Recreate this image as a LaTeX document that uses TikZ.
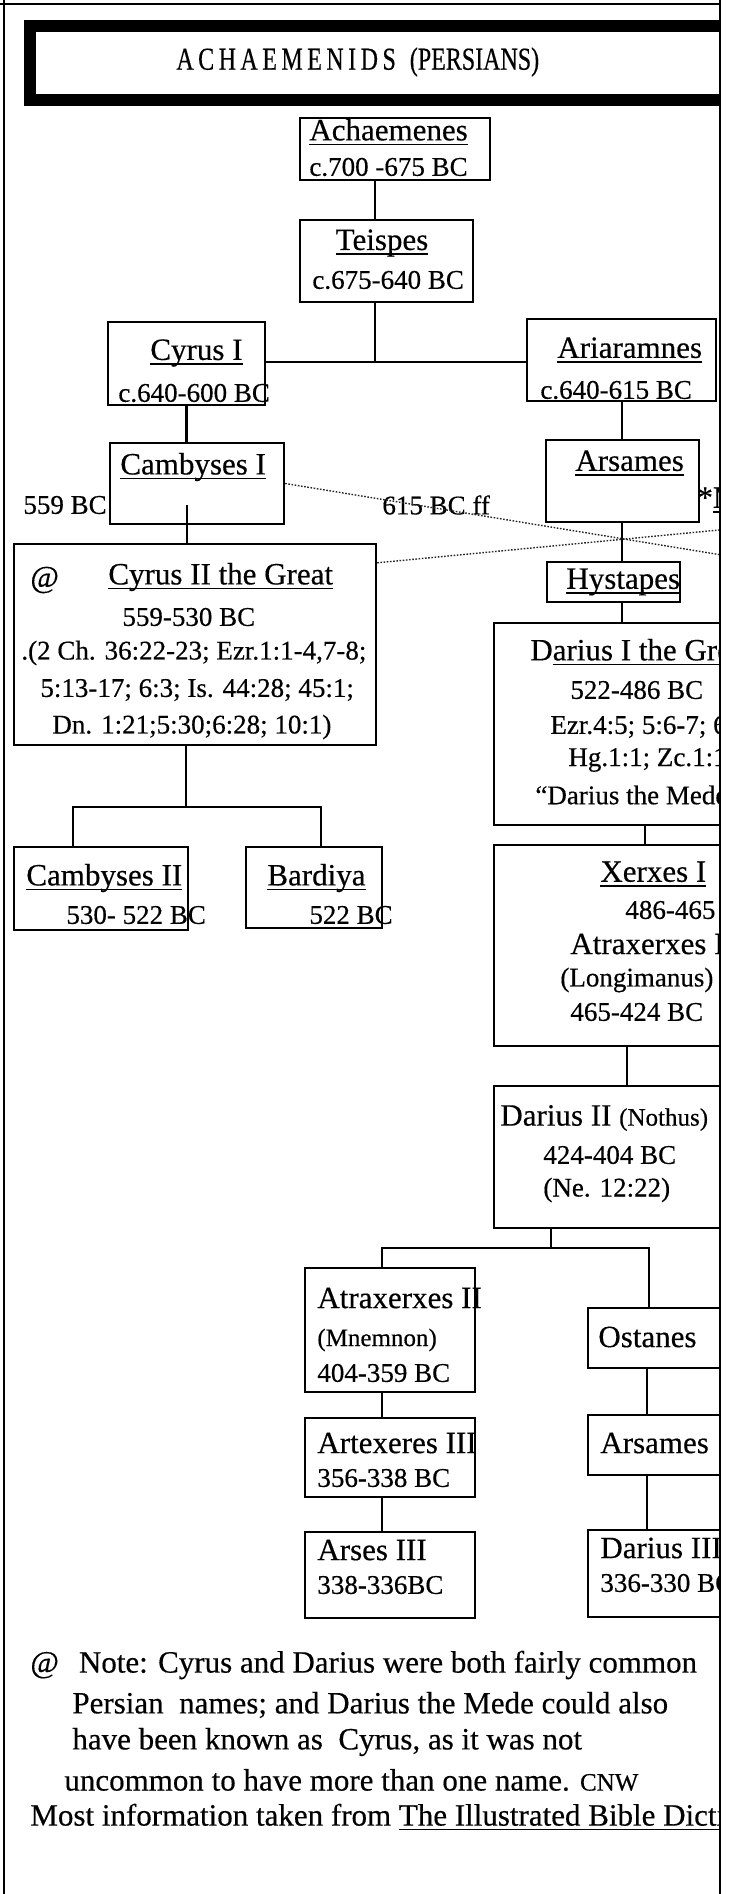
\documentclass[tikz,border=0pt]{standalone}
\usepackage{fontspec}
\setmainfont{Liberation Serif}[FakeBold=0.4]
\usetikzlibrary{fit}

\newsavebox{\ulnbox}
\newcommand{\uln}[1]{\sbox{\ulnbox}{#1}\rlap{\rule[-2.4pt]{\wd\ulnbox}{0.7pt}}\usebox{\ulnbox}}
\newcommand{\smallpart}{\fontsize{12.5}{14}\selectfont}

\tikzset{
  king/.style={draw, line width=1.2pt, inner sep=0pt},
  txt/.style={anchor=west, inner sep=0pt, font=\fontsize{13.5}{16}\selectfont},
  rname/.style={txt, font=\fontsize{15.5}{18}\selectfont},
  note/.style={txt, font=\fontsize{15.5}{18}\selectfont},
  link/.style={line width=1.1pt},
  dotline/.style={line width=0.7pt, dash pattern=on 0.8pt off 0.8pt, black!85}
}

\begin{document}
\begin{tikzpicture}[x=0.5pt, y=-0.5pt]
  \useasboundingbox (0,0) rectangle (728,1894);
  \begin{scope}
    \clip (0,0) rectangle (720,1894);
    \node[draw, line width=6pt, inner sep=0pt, fit={(30,26) (780,100)}] (titlebox) {};
    \node[anchor=west, inner sep=0pt, font=\fontsize{16}{18}\selectfont] (title) at (176,62)
      {\addfontfeature{FakeStretch=0.75}{\addfontfeature{LetterSpace=14}ACHAEMENIDS}\hspace{7pt}(PERSIANS)};

    % boxes
    \node[king, fit={(300,118) (490,180)}] (achaemenes) {};
    \node[king, fit={(300,220) (473,302)}] (teispes) {};
    \node[king, fit={(108,322) (265,405)}] (cyrusI) {};
    \node[king, fit={(527,319) (716,401)}] (ariaramnes) {};
    \node[king, fit={(110,443) (284,524)}] (cambysesI) {};
    \node[king, fit={(546,440) (699,522)}] (arsames) {};
    \node[king, fit={(547,562) (680,602)}] (hystapes) {};
    \node[king, fit={(14,544) (376,745)}] (cyrusII) {};
    \node[king, fit={(494,623) (780,825)}] (dariusI) {};
    \node[king, fit={(494,845) (780,1046)}] (xerxes) {};
    \node[king, fit={(494,1086) (780,1228)}] (dariusII) {};
    \node[king, fit={(14,847) (188,930)}] (cambysesII) {};
    \node[king, fit={(246,847) (382,928)}] (bardiya) {};
    \node[king, fit={(305,1268) (475,1392)}] (artaxII) {};
    \node[king, fit={(305,1418) (475,1497)}] (artaxIII) {};
    \node[king, fit={(305,1532) (475,1618)}] (arsesIII) {};
    \node[king, fit={(588,1308) (780,1368)}] (ostanes) {};
    \node[king, fit={(588,1415) (780,1475)}] (arsamesII) {};
    \node[king, fit={(588,1530) (780,1617)}] (dariusIII) {};

    % texts
    \node[rname] (n-ach) at (309,132) {\uln{Achaemenes}};
    \node[txt] (d-ach) at (309,167) {c.700 -675 BC};
    \node[rname, anchor=center] (n-tei) at (382,243) {\uln{Teispes}};
    \node[txt] (d-tei) at (312,280) {c.675-640 BC};
    \node[rname] (n-cy1) at (150,353) {\uln{Cyrus I}};
    \node[txt] (d-cy1) at (118,393) {c.640-600 BC};
    \node[rname] (n-ari) at (557,350) {\uln{Ariaramnes}};
    \node[txt] (d-ari) at (540,390) {c.640-615 BC};
    \node[rname] (n-cb1) at (120,467) {\uln{Cambyses I}};
    \node[txt] (y559) at (23,505) {559 BC};
    \node[txt] (y615) at (382,505) {615 BC ff};
    \node[rname] (n-ars) at (575,463) {\uln{Arsames}};
    \node[rname] (mede) at (697,500) {*\uln{M}};
    \node[rname] (n-hys) at (566,582) {\uln{Hystapes}};

    \node[rname] (at1) at (30,580) {@};
    \node[rname] (n-cy2) at (108,577) {\uln{Cyrus II the Great}};
    \node[txt] (d-cy2) at (122,617) {559-530 BC};
    \node[txt] (r1-cy2) at (21,653) {.(2 Ch. 36:22-23; Ezr.1:1-4,7-8;};
    \node[txt] (r2-cy2) at (40,690) {5:13-17; 6:3; Is. 44:28; 45:1;};
    \node[txt] (r3-cy2) at (52,727) {Dn. 1:21;5:30;6:28; 10:1)};

    \node[rname] (n-da1) at (530,652) {D\uln{arius I the Great}};
    \node[txt] (d-da1) at (570,690) {522-486 BC};
    \node[txt] (r1-da1) at (550,727) {Ezr.4:5; 5:6-7; 6};
    \node[txt] (r2-da1) at (568,760) {Hg.1:1; Zc.1:1};
    \node[txt] (r3-da1) at (535,795) {“Darius the Mede”};

    \node[rname] (n-xer) at (600,874) {\uln{Xerxes I}};
    \node[txt] (d-xer) at (625,910) {486-465};
    \node[rname] (n-at1) at (570,944) {Atraxerxes I};
    \node[txt] (s-at1) at (560,980) {(Longimanus)};
    \node[txt] (d-at1) at (570,1012) {465-424 BC};

    \node[rname] (n-da2) at (500,1118) {Darius II {\smallpart(Nothus)}};
    \node[txt] (d-da2) at (543,1155) {424-404 BC};
    \node[txt] (r-da2) at (543,1190) {(Ne. 12:22)};

    \node[rname] (n-cb2) at (26,878) {\uln{Cambyses II}};
    \node[txt] (d-cb2) at (66,915) {530- 522 BC};
    \node[rname] (n-bar) at (267,878) {\uln{Bardiya}};
    \node[txt] (d-bar) at (309,915) {522 BC};

    \node[rname] (n-at2) at (317,1298) {Atraxerxes II};
    \node[txt, font=\smallpart] (s-at2) at (317,1340) {(Mnemnon)};
    \node[txt] (d-at2) at (317,1373) {404-359 BC};
    \node[rname] (n-at3) at (317,1443) {Artexeres III};
    \node[txt] (d-at3) at (317,1478) {356-338 BC};
    \node[rname] (n-as3) at (317,1550) {Arses III};
    \node[txt] (d-as3) at (317,1585) {338-336BC};
    \node[rname] (n-ost) at (598,1337) {Ostanes};
    \node[rname] (n-ar2) at (600,1443) {Arsames};
    \node[rname] (n-da3) at (600,1548) {Darius III};
    \node[txt] (d-da3) at (600,1583) {336-330 BC};

    % lines of descent
    \coordinate (stem) at (375,362);
    \draw[link] (achaemenes.south -| stem) -- (teispes.north -| stem);
    \draw[link] (teispes.south -| stem) -- (stem);
    \draw[link] (cyrusI.east |- stem) -- (ariaramnes.west |- stem);
    \draw[link] (cyrusI.south) -- (cyrusI.south |- cambysesI.north);
    \coordinate (camb) at (187,505);
    \draw[link] (camb) -- (camb |- cyrusII.north);
    \coordinate (rstem) at (622,0);
    \draw[link] (ariaramnes.south -| rstem) -- (arsames.north -| rstem);
    \draw[link] (arsames.south -| rstem) -- (hystapes.north -| rstem);
    \draw[link] (hystapes.south -| rstem) -- (dariusI.north -| rstem);
    \coordinate (dstem) at (645,835);
    \draw[link] (dariusI.south -| dstem) -- (xerxes.north -| dstem);
    \coordinate (xstem) at (627,1066);
    \draw[link] (xerxes.south -| xstem) -- (dariusII.north -| xstem);
    \coordinate (f1) at (186,807);
    \coordinate (f1l) at (73,807);
    \coordinate (f1r) at (321,807);
    \draw[link] (cyrusII.south -| f1) -- (f1);
    \draw[link] (cambysesII.north -| f1l) -- (f1l) -- (f1r) -- (bardiya.north -| f1r);
    \coordinate (f2) at (551,1248);
    \coordinate (f2l) at (382,1248);
    \coordinate (f2r) at (649,1248);
    \draw[link] (dariusII.south -| f2) -- (f2);
    \draw[link] (artaxII.north -| f2l) -- (f2l) -- (f2r) -- (ostanes.north -| f2r);
    \draw[link] (artaxII.south -| f2l) -- (artaxIII.north -| f2l);
    \draw[link] (artaxIII.south -| f2l) -- (arsesIII.north -| f2l);
    \coordinate (ostem) at (647,0);
    \draw[link] (ostanes.south -| ostem) -- (arsamesII.north -| ostem);
    \draw[link] (arsamesII.south -| ostem) -- (dariusIII.north -| ostem);

    % dotted cross
    \coordinate (dotA) at (740,558);
    \coordinate (dotB) at (740,528);
    \draw[dotline] (cambysesI.east) -- (dotA);
    \draw[dotline] ([yshift=-10pt]cyrusII.north east) -- (dotB);

    % note
    \node[note] (note1) at (30,1665) {@\hspace{10pt}Note: Cyrus and Darius were both fairly common};
    \node[note] (note2) at (72,1705) {Persian\ \ names; and Darius the Mede could also};
    \node[note] (note3) at (72,1742) {have been known as\ \ Cyrus, as it was not};
    \node[note] (note4) at (64,1780) {uncommon to have more than one name. {\smallpart CNW}};
    \node[note] (note5) at (30,1818) {Most information taken from \uln{The Illustrated Bible Dictionary}};
  \end{scope}
  \draw[line width=1pt] (4,0) -- (4,1894);
  \draw[line width=1pt] (0,4) -- (720,4);
  \draw[line width=1pt] (720,0) -- (720,1894);
\end{tikzpicture}
\end{document}
